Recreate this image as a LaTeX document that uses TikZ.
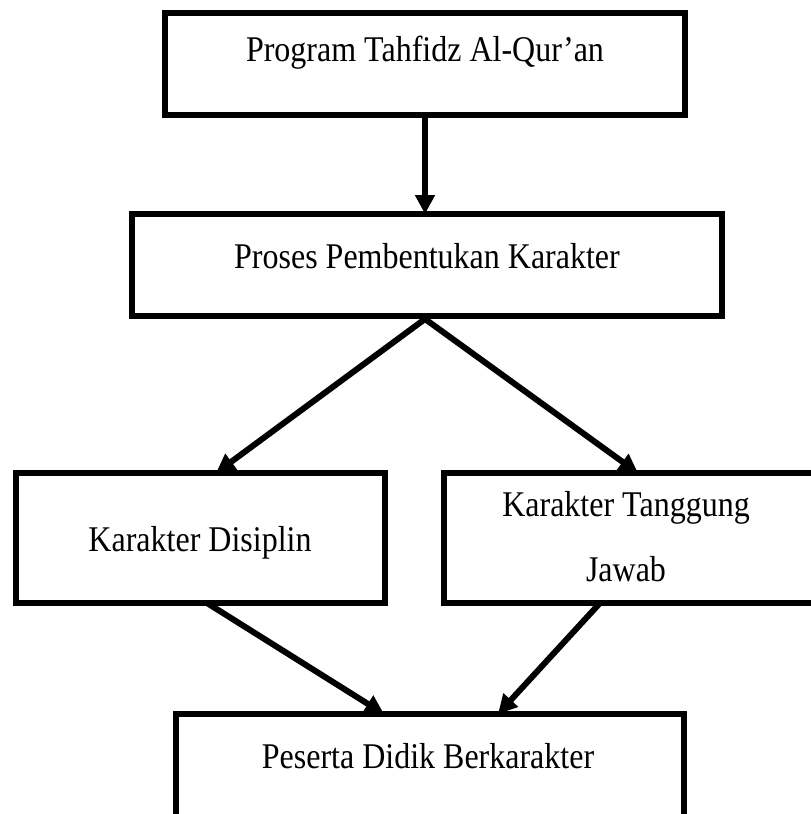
\documentclass[tikz,border=0pt]{standalone}
\usepackage{fontspec}
\setmainfont{Liberation Serif}
\usetikzlibrary{arrows.meta}
\newcommand{\tall}[1]{\scalebox{1}[1.13]{#1}}
\begin{document}
\begin{tikzpicture}[x=1pt,y=-1pt,
  box/.style={draw=black,line width=6pt,fill=white,inner sep=0pt},
  lbl/.style={font=\fontsize{32}{38}\selectfont,inner sep=0pt,anchor=base},
  arr/.style={line width=6pt,-{Triangle[length=19pt,width=19pt]}}]
\useasboundingbox (0,0) rectangle (811,814);
\begin{scope}
\clip (0,0) rectangle (811,814);
\node[box,minimum width=520pt,minimum height=102pt] (b1) at (425,64) {};
\node[box,minimum width=590pt,minimum height=102pt] (b2) at (427,265) {};
\node[box,minimum width=369pt,minimum height=130pt] (b3) at (200.5,538) {};
\node[box,minimum width=372pt,minimum height=130pt] (b4) at (630,538) {};
\node[box,minimum width=508pt,minimum height=110pt] (b5) at (430,769) {};
\end{scope}
\node[lbl] (t1) at (425,61) {\tall{Program Tahfidz Al-Qur’an}};
\node[lbl] (t2) at (427,268) {\tall{Proses Pembentukan Karakter}};
\node[lbl] (t3) at (200,551) {\tall{Karakter Disiplin}};
\node[lbl] (t4a) at (626,516) {\tall{Karakter Tanggung}};
\node[lbl] (t4b) at (626,581) {\tall{Jawab}};
\node[lbl] (t5) at (428,768) {\tall{Peserta Didik Berkarakter}};
\coordinate (s2) at (425,319);
\coordinate (e2) at (425,214);
\coordinate (e3) at (216,473);
\coordinate (e4) at (638,473);
\coordinate (s3) at (207,603);
\coordinate (s4) at (600,603);
\coordinate (e5a) at (384,714);
\coordinate (e5b) at (498,714);
\draw[arr] (b1.south -| e2) -- (e2);
\draw[arr] (s2) -- (e3);
\draw[arr] (s2) -- (e4);
\draw[arr] (s3) -- (e5a);
\draw[arr] (s4) -- (e5b);
\end{tikzpicture}
\end{document}
